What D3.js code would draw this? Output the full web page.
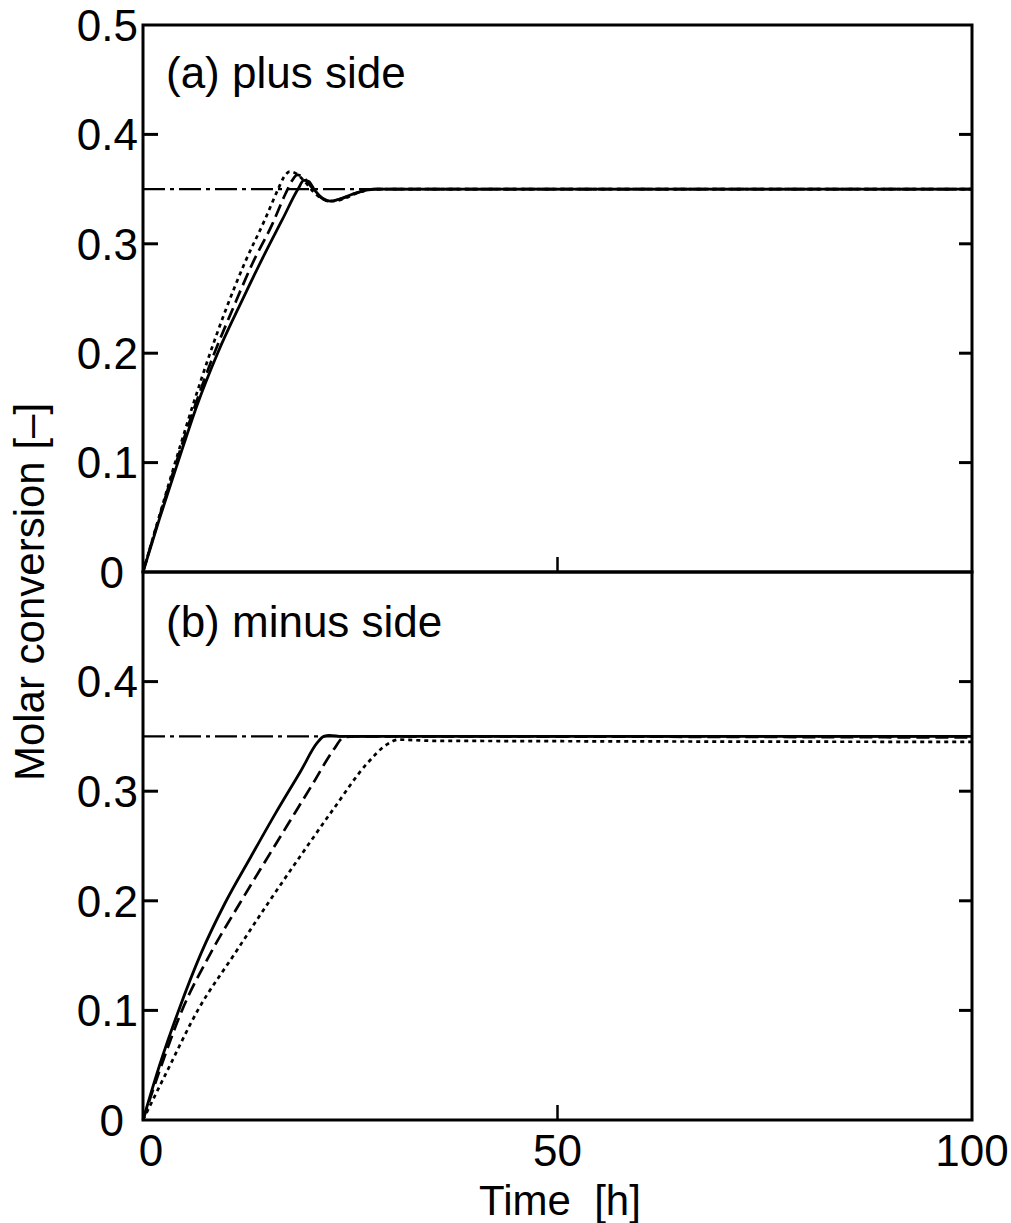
<!DOCTYPE html>
<html>
<head>
<meta charset="utf-8">
<script src="https://cdn.jsdelivr.net/npm/d3@7"></script>
<style>
  body { margin: 0; background: #fff; }
  svg text { font-family: "Liberation Sans", Arial, sans-serif; fill: #000; }
</style>
</head>
<body>
<svg id="chart" width="1011" height="1223"></svg>
<script>
// Time axis ticks and molar-conversion ticks
const timeTicks = [0, 50, 100];
const convTicks = [0, 0.1, 0.2, 0.3, 0.4, 0.5];
const equilibrium = 0.35;

// (a) plus side: [time h, conversion]
const plusSolid = [[0,0],[2,0.049],[4.2,0.1],[6.5,0.152],[9,0.2],[12,0.249],[14.5,0.288],[16.8,0.322],[18.7,0.35],[19.4,0.358],[20,0.357],[20.7,0.349],[21.6,0.342],[22.6,0.339],[23.8,0.341],[25.5,0.346],[28,0.35],[100,0.35]];
const plusDashed = [[0,0],[2,0.051],[4,0.1],[6,0.146],[8.5,0.198],[10.8,0.24],[13.2,0.282],[15.6,0.318],[17.2,0.346],[18,0.358],[18.6,0.363],[19.3,0.361],[20.2,0.353],[21.2,0.344],[22.4,0.339],[23.8,0.341],[25.5,0.346],[28,0.35],[100,0.35]];
const plusDotted = [[0,0],[2,0.052],[4,0.103],[6,0.152],[8,0.198],[10,0.24],[12.3,0.283],[14.7,0.322],[16.3,0.35],[17,0.361],[17.7,0.366],[18.5,0.364],[19.5,0.357],[20.5,0.348],[21.7,0.341],[23,0.339],[24.5,0.342],[26,0.347],[28.5,0.35],[100,0.35]];

// (b) minus side
const minusSolid = [[0,0],[2,0.05],[4.3,0.1],[7,0.152],[9.9,0.198],[13,0.24],[16,0.28],[19,0.318],[21,0.344],[21.8,0.35],[22.5,0.351],[24,0.35],[100,0.35]];
const minusDashed = [[0,0],[2,0.045],[4.7,0.1],[8,0.15],[11.7,0.198],[14.5,0.233],[17.5,0.27],[20.5,0.307],[23,0.338],[24.2,0.349],[25.5,0.35],[100,0.349]];
const minusDotted = [[0,0],[3,0.046],[6.6,0.1],[11,0.151],[15.1,0.198],[19,0.241],[23,0.284],[27,0.325],[29.5,0.343],[30.8,0.347],[35,0.346],[100,0.345]];

const svg = d3.select("#chart");
const left = 143, right = 972;
const x = d3.scaleLinear().domain([0, 100]).range([left, right]);

const panels = [
  { top: 25, bottom: 572, title: "(a) plus side", titleY: 88,
    series: [plusSolid, plusDashed, plusDotted], yLabels: [0, 0.1, 0.2, 0.3, 0.4, 0.5] },
  { top: 572, bottom: 1120, title: "(b) minus side", titleY: 637,
    series: [minusSolid, minusDashed, minusDotted], yLabels: [0, 0.1, 0.2, 0.3, 0.4] }
];

const styles = [
  { dash: null, width: 2.8 },
  { dash: "13,6", width: 2.7 },
  { dash: "4,4", width: 2.7 }
];

panels.forEach(p => {
  const y = d3.scaleLinear().domain([0, 0.5]).range([p.bottom, p.top]);
  const g = svg.append("g");

  // frame
  g.append("rect")
    .attr("x", left).attr("y", p.top)
    .attr("width", right - left).attr("height", p.bottom - p.top)
    .attr("fill", "none").attr("stroke", "#000").attr("stroke-width", 3);

  // inward ticks on left and right
  const inner = convTicks.filter(v => v > 0 && v < 0.5);
  g.selectAll(".lt").data(inner).join("line")
    .attr("x1", left).attr("x2", left + 15)
    .attr("y1", d => y(d)).attr("y2", d => y(d))
    .attr("stroke", "#000").attr("stroke-width", 3);
  g.selectAll(".rt").data(inner).join("line")
    .attr("x1", right - 13).attr("x2", right)
    .attr("y1", d => y(d)).attr("y2", d => y(d))
    .attr("stroke", "#000").attr("stroke-width", 3);
  // time tick at 50
  g.append("line")
    .attr("x1", x(50)).attr("x2", x(50))
    .attr("y1", p.bottom).attr("y2", p.bottom - 15)
    .attr("stroke", "#000").attr("stroke-width", 2.5);

  // y tick labels
  g.selectAll(".yl").data(p.yLabels).join("text")
    .attr("x", d => d === 0 ? 124 : 138)
    .attr("y", d => y(d))
    .attr("dy", "0.36em")
    .attr("text-anchor", "end")
    .attr("font-size", 44)
    .text(d => d === 0 ? "0" : d3.format(".1f")(d));

  // equilibrium conversion (dash-dot)
  g.append("line")
    .attr("x1", x(0)).attr("x2", x(100))
    .attr("y1", y(equilibrium)).attr("y2", y(equilibrium))
    .attr("stroke", "#000").attr("stroke-width", 2.4)
    .attr("stroke-dasharray", "22,5,4,5");

  const line = d3.line().x(d => x(d[0])).y(d => y(d[1])).curve(d3.curveMonotoneX);
  p.series.forEach((s, i) => {
    g.append("path").datum(s)
      .attr("d", line)
      .attr("fill", "none").attr("stroke", "#000")
      .attr("stroke-width", styles[i].width)
      .attr("stroke-dasharray", styles[i].dash);
  });

  g.append("text")
    .attr("x", 166).attr("y", p.titleY)
    .attr("font-size", 44)
    .text(p.title);
});

// time axis labels
svg.selectAll(".xl").data(timeTicks).join("text")
  .attr("x", d => x(d) + (d === 0 ? 8 : 0))
  .attr("y", 1150).attr("dy", "0.36em")
  .attr("text-anchor", "middle")
  .attr("font-size", 44)
  .text(d => d);

svg.append("text")
  .attr("x", 560).attr("y", 1200).attr("dy", "0.36em")
  .attr("text-anchor", "middle")
  .attr("font-size", 42)
  .attr("xml:space", "preserve")
  .text("Time  [h]");

svg.append("text")
  .attr("transform", "translate(44,592) rotate(-90)")
  .attr("text-anchor", "middle")
  .attr("font-size", 42)
  .text("Molar conversion [\u2013]");
</script>
</body>
</html>
